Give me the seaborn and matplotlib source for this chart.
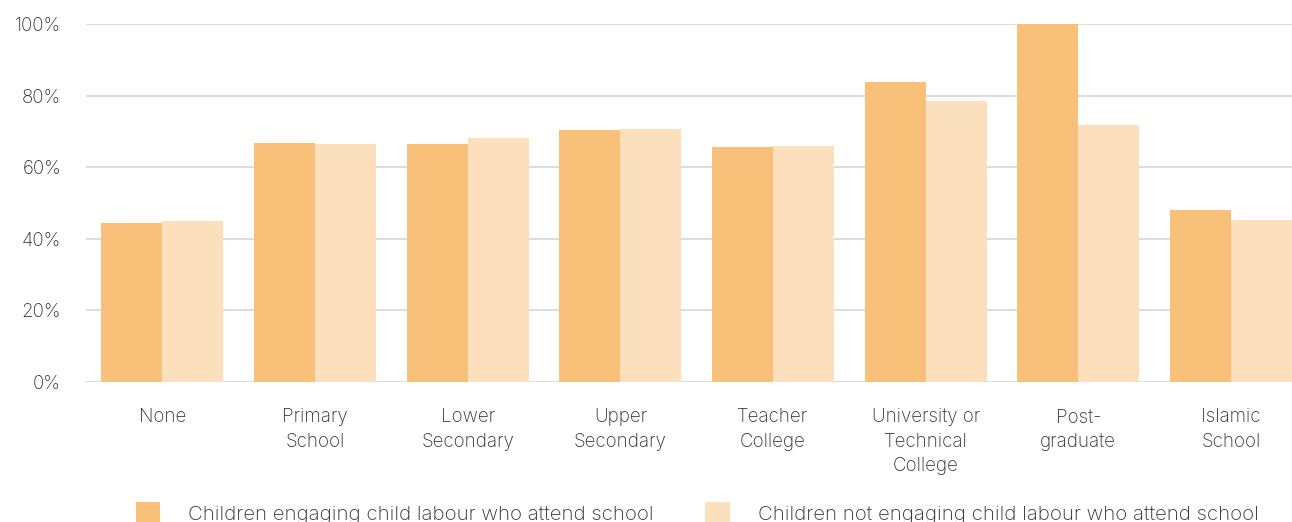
import matplotlib
matplotlib.use("Agg")
import matplotlib.pyplot as plt
import pandas as pd
import seaborn as sns

# values (percent)
categories = ['None', 'Primary\nSchool', 'Lower\nSecondary', 'Upper\nSecondary',
              'Teacher\nCollege', 'University or\nTechnical\nCollege',
              'Post-\ngraduate', 'Islamic\nSchool']
series_names = ['Children engaging child labour who attend school',
                'Children not engaging child labour who attend school']
labour = [44.4, 66.8, 66.5, 70.4, 65.6, 83.8, 100.0, 48.0]
no_labour = [45.0, 66.5, 68.2, 70.7, 65.9, 78.5, 71.8, 45.3]
yticks = [0, 20, 40, 60, 80, 100]
ytick_labels = ['0%', '20%', '40%', '60%', '80%', '100%']

df = pd.DataFrame({
    'Education': categories * 2,
    'Share': labour + no_labour,
    'Group': [series_names[0]] * len(categories) + [series_names[1]] * len(categories),
})

sns.set_theme(style="white")
plt.rcParams['font.family'] = ['Inter', 'DejaVu Sans']
plt.rcParams['font.weight'] = 'light'
text_color = '#333333'

fig = plt.figure(figsize=(12.92, 5.22), dpi=100)
ax = fig.add_axes([0.0666, 0.268, 0.9334, 0.686])

sns.barplot(data=df, x='Education', y='Share', hue='Group', order=categories,
            hue_order=series_names, palette=['#F8C078', '#FCDFBC'],
            saturation=1, width=0.8, linewidth=0, ax=ax)

ax.set_ylim(0, 100)
ax.set_xlim(-0.5, 7.4)
ax.set_yticks(yticks)
ax.set_yticklabels(ytick_labels)
ax.set_xlabel('')
ax.set_ylabel('')
ax.set_axisbelow(True)
ax.grid(axis='y', color='#DDDDDD', linewidth=1.5)
ax.grid(axis='x', visible=False)
for s in ax.spines.values():
    s.set_visible(False)
ax.tick_params(axis='y', length=0, pad=18, labelsize=13.5, labelcolor=text_color)
ax.tick_params(axis='x', length=0, pad=19, labelsize=13.5, labelcolor=text_color)
for lbl in ax.get_xticklabels():
    lbl.set_linespacing(1.45)
    lbl.set_verticalalignment('top')

handles, labels = ax.get_legend_handles_labels()
ax.get_legend().remove()
fig.legend(handles, labels, loc='center', bbox_to_anchor=(0.5395, 0.017),
           ncol=2, frameon=False, fontsize=14.7, handlelength=1.2,
           handleheight=1.2, handletextpad=1.35, columnspacing=2.55,
           labelcolor=text_color)

fig.savefig('out.png', dpi=100)
